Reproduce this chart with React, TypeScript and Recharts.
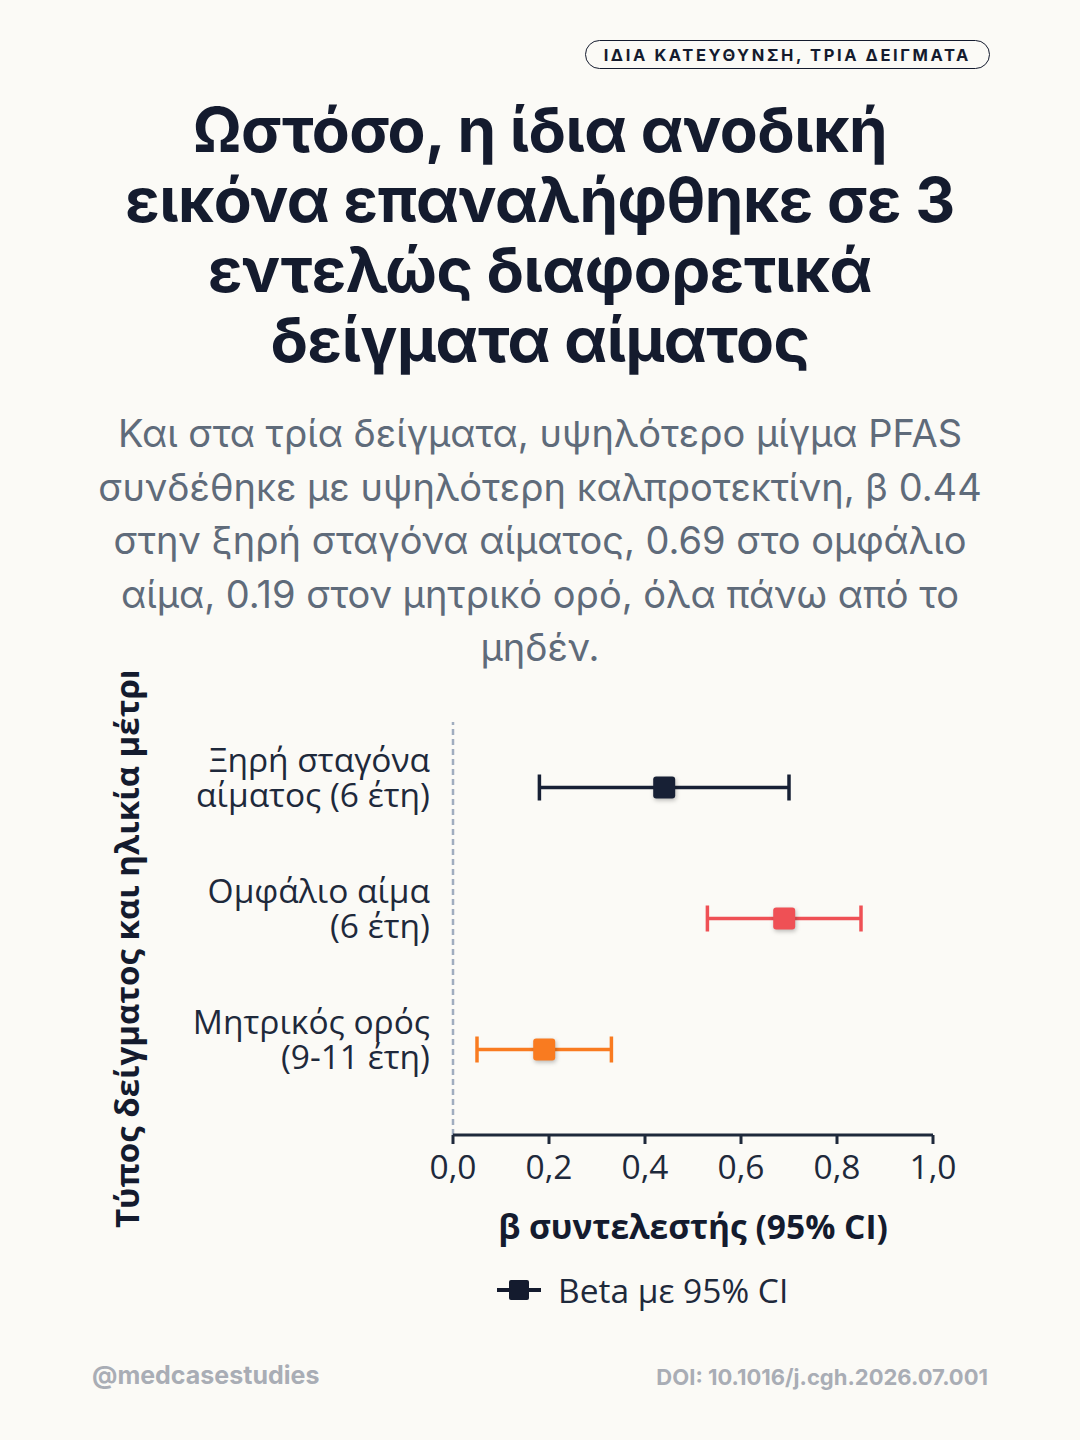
import React from 'react';
import { ScatterChart, Scatter, XAxis, YAxis, ErrorBar, ReferenceLine, Legend, Label } from 'recharts';

const categories = ['Ξηρή σταγόνα|αίματος (6 έτη)', 'Ομφάλιο αίμα|(6 έτη)', 'Μητρικός ορός|(9-11 έτη)'];
const betas = [0.44, 0.69, 0.19];
const lowerCI = [0.18, 0.53, 0.05];
const upperCI = [0.7, 0.85, 0.33];
const colors = ['#172035', '#ef5055', '#f97b20'];
const xTicks = [0, 0.2, 0.4, 0.6, 0.8, 1.0];

const series = categories.map((label, i) => [
  { label, beta: betas[i], err: [betas[i] - lowerCI[i], upperCI[i] - betas[i]] },
]);

const DARK = '#141b2e';
const CHART_FONT = '"Open Sans", sans-serif';
const FS = 33.5;

const YTick = (props: any) => {
  const { x, y, payload } = props;
  const lines = String(payload.value).split('|');
  return (
    <text x={x - 15} y={y} textAnchor="end" fill="#1e293b" fontSize={FS} fontFamily={CHART_FONT}>
      {lines.map((l, k) => (
        <tspan key={k} x={x - 15} dy={k === 0 ? -16 : 35}>
          {l}
        </tspan>
      ))}
    </text>
  );
};

const makeSquare = (color: string) => (props: any) => {
  const { cx, cy } = props;
  return (
    <rect
      x={cx - 11}
      y={cy - 11}
      width={22}
      height={22}
      rx={3}
      fill={color}
      style={{ filter: 'drop-shadow(1px 2px 2px rgba(0,0,0,0.25))' }}
    />
  );
};

const LegendBox = () => (
  <div style={{ display: 'flex', alignItems: 'center', paddingLeft: 397, fontFamily: CHART_FONT, height: 44 }}>
    <svg width={44} height={24} style={{ marginRight: 17 }}>
      <line x1={0} y1={12} x2={44} y2={12} stroke={DARK} strokeWidth={4} />
      <rect x={12} y={2} width={20} height={20} rx={2} fill={DARK} />
    </svg>
    <span style={{ fontSize: FS, color: '#1e293b' }}>Beta με 95% CI</span>
  </div>
);

export default function App() {
  return (
    <div
      style={{
        position: 'absolute',
        left: 0,
        top: 0,
        width: 1080,
        height: 1440,
        background: '#fbfaf6',
        fontFamily: 'Inter, sans-serif',
        overflow: 'hidden',
      }}
    >
      <div
        style={{
          position: 'absolute',
          right: 90,
          top: 40,
          height: 27,
          padding: '0 18px',
          border: `1.5px solid ${DARK}`,
          borderRadius: 15,
          fontSize: 16.5,
          fontWeight: 700,
          letterSpacing: 2.6,
          color: DARK,
          display: 'flex',
          alignItems: 'center',
        }}
      >
        ΙΔΙΑ ΚΑΤΕΥΘΥΝΣΗ, ΤΡΙΑ ΔΕΙΓΜΑΤΑ
      </div>
      <div
        style={{
          position: 'absolute',
          left: 0,
          width: 1080,
          top: 95,
          textAlign: 'center',
          fontSize: 62,
          fontWeight: 700,
          lineHeight: '70px',
          color: DARK,
          letterSpacing: -0.5,
        }}
      >
        Ωστόσο, η ίδια ανοδική
        <br />
        εικόνα επαναλήφθηκε σε 3
        <br />
        εντελώς διαφορετικά
        <br />
        δείγματα αίματος
      </div>
      <div
        style={{
          position: 'absolute',
          left: 0,
          width: 1080,
          top: 407,
          textAlign: 'center',
          fontSize: 38,
          lineHeight: '53.5px',
          color: '#5f6b7a',
        }}
      >
        Και στα τρία δείγματα, υψηλότερο μίγμα PFAS
        <br />
        συνδέθηκε με υψηλότερη καλπροτεκτίνη, β 0.44
        <br />
        στην ξηρή σταγόνα αίματος, 0.69 στο ομφάλιο
        <br />
        αίμα, 0.19 στον μητρικό ορό, όλα πάνω από το
        <br />
        μηδέν.
      </div>
      <div style={{ position: 'absolute', left: 100, top: 672, width: 900, height: 660, overflow: 'hidden' }}>
        <ScatterChart width={900} height={660} margin={{ top: 50, right: 67, bottom: 20, left: 0 }}>
          <XAxis
            type="number"
            dataKey="beta"
            domain={[0, 1]}
            ticks={xTicks}
            tickFormatter={(v: number) => v.toFixed(1).replace('.', ',')}
            axisLine={{ stroke: '#1e293b', strokeWidth: 3 }}
            tickLine={{ stroke: '#1e293b', strokeWidth: 3 }}
            tickSize={9}
            tickMargin={11}
            tick={{ fill: '#1e293b', fontSize: FS, fontFamily: CHART_FONT }}
            height={133}
          >
            <Label
              content={(p: any) => {
                const vb = p.viewBox;
                return (
                  <text
                    x={vb.x + vb.width / 2}
                    y={vb.y + 95}
                    textAnchor="middle"
                    dominantBaseline="middle"
                    fill={DARK}
                    fontSize={FS}
                    fontWeight={700}
                    fontFamily={CHART_FONT}
                  >
                    β συντελεστής (95% CI)
                  </text>
                );
              }}
            />
          </XAxis>
          <YAxis
            type="category"
            dataKey="label"
            allowDuplicatedCategory={false}
            width={353}
            axisLine={false}
            tickLine={false}
            tick={<YTick />}
            padding={{ top: 0, bottom: 20 }}
            reversed
          >
            <Label
              content={(p: any) => {
                const vb = p.viewBox;
                const by = vb.y + vb.height + 93;
                return (
                  <text
                    x={30}
                    y={by}
                    transform={`rotate(-90, 30, ${by})`}
                    textAnchor="start"
                    dominantBaseline="middle"
                    fill={DARK}
                    fontSize={33}
                    fontWeight={700}
                    fontFamily={CHART_FONT}
                  >
                    Τύπος δείγματος και ηλικία μέτρησης
                  </text>
                );
              }}
            />
          </YAxis>
          <ReferenceLine x={0} stroke="#a0adbf" strokeWidth={2.5} strokeDasharray="6 4" />
          {series.map((d, i) => (
            <Scatter
              key={i}
              data={d}
              fill={colors[i]}
              shape={makeSquare(colors[i])}
              legendType="none"
              isAnimationActive={false}
            >
              <ErrorBar dataKey="err" direction="x" width={13} strokeWidth={3.5} stroke={colors[i]} />
            </Scatter>
          ))}
          <Legend verticalAlign="bottom" content={() => <LegendBox />} />
        </ScatterChart>
      </div>
      <div style={{ position: 'absolute', left: 92, top: 1360, fontSize: 25, fontWeight: 700, color: '#a9adb5' }}>
        @medcasestudies
      </div>
      <div style={{ position: 'absolute', right: 92, top: 1364, fontSize: 22, fontWeight: 700, color: '#a9adb5' }}>
        DOI: 10.1016/j.cgh.2026.07.001
      </div>
    </div>
  );
}
